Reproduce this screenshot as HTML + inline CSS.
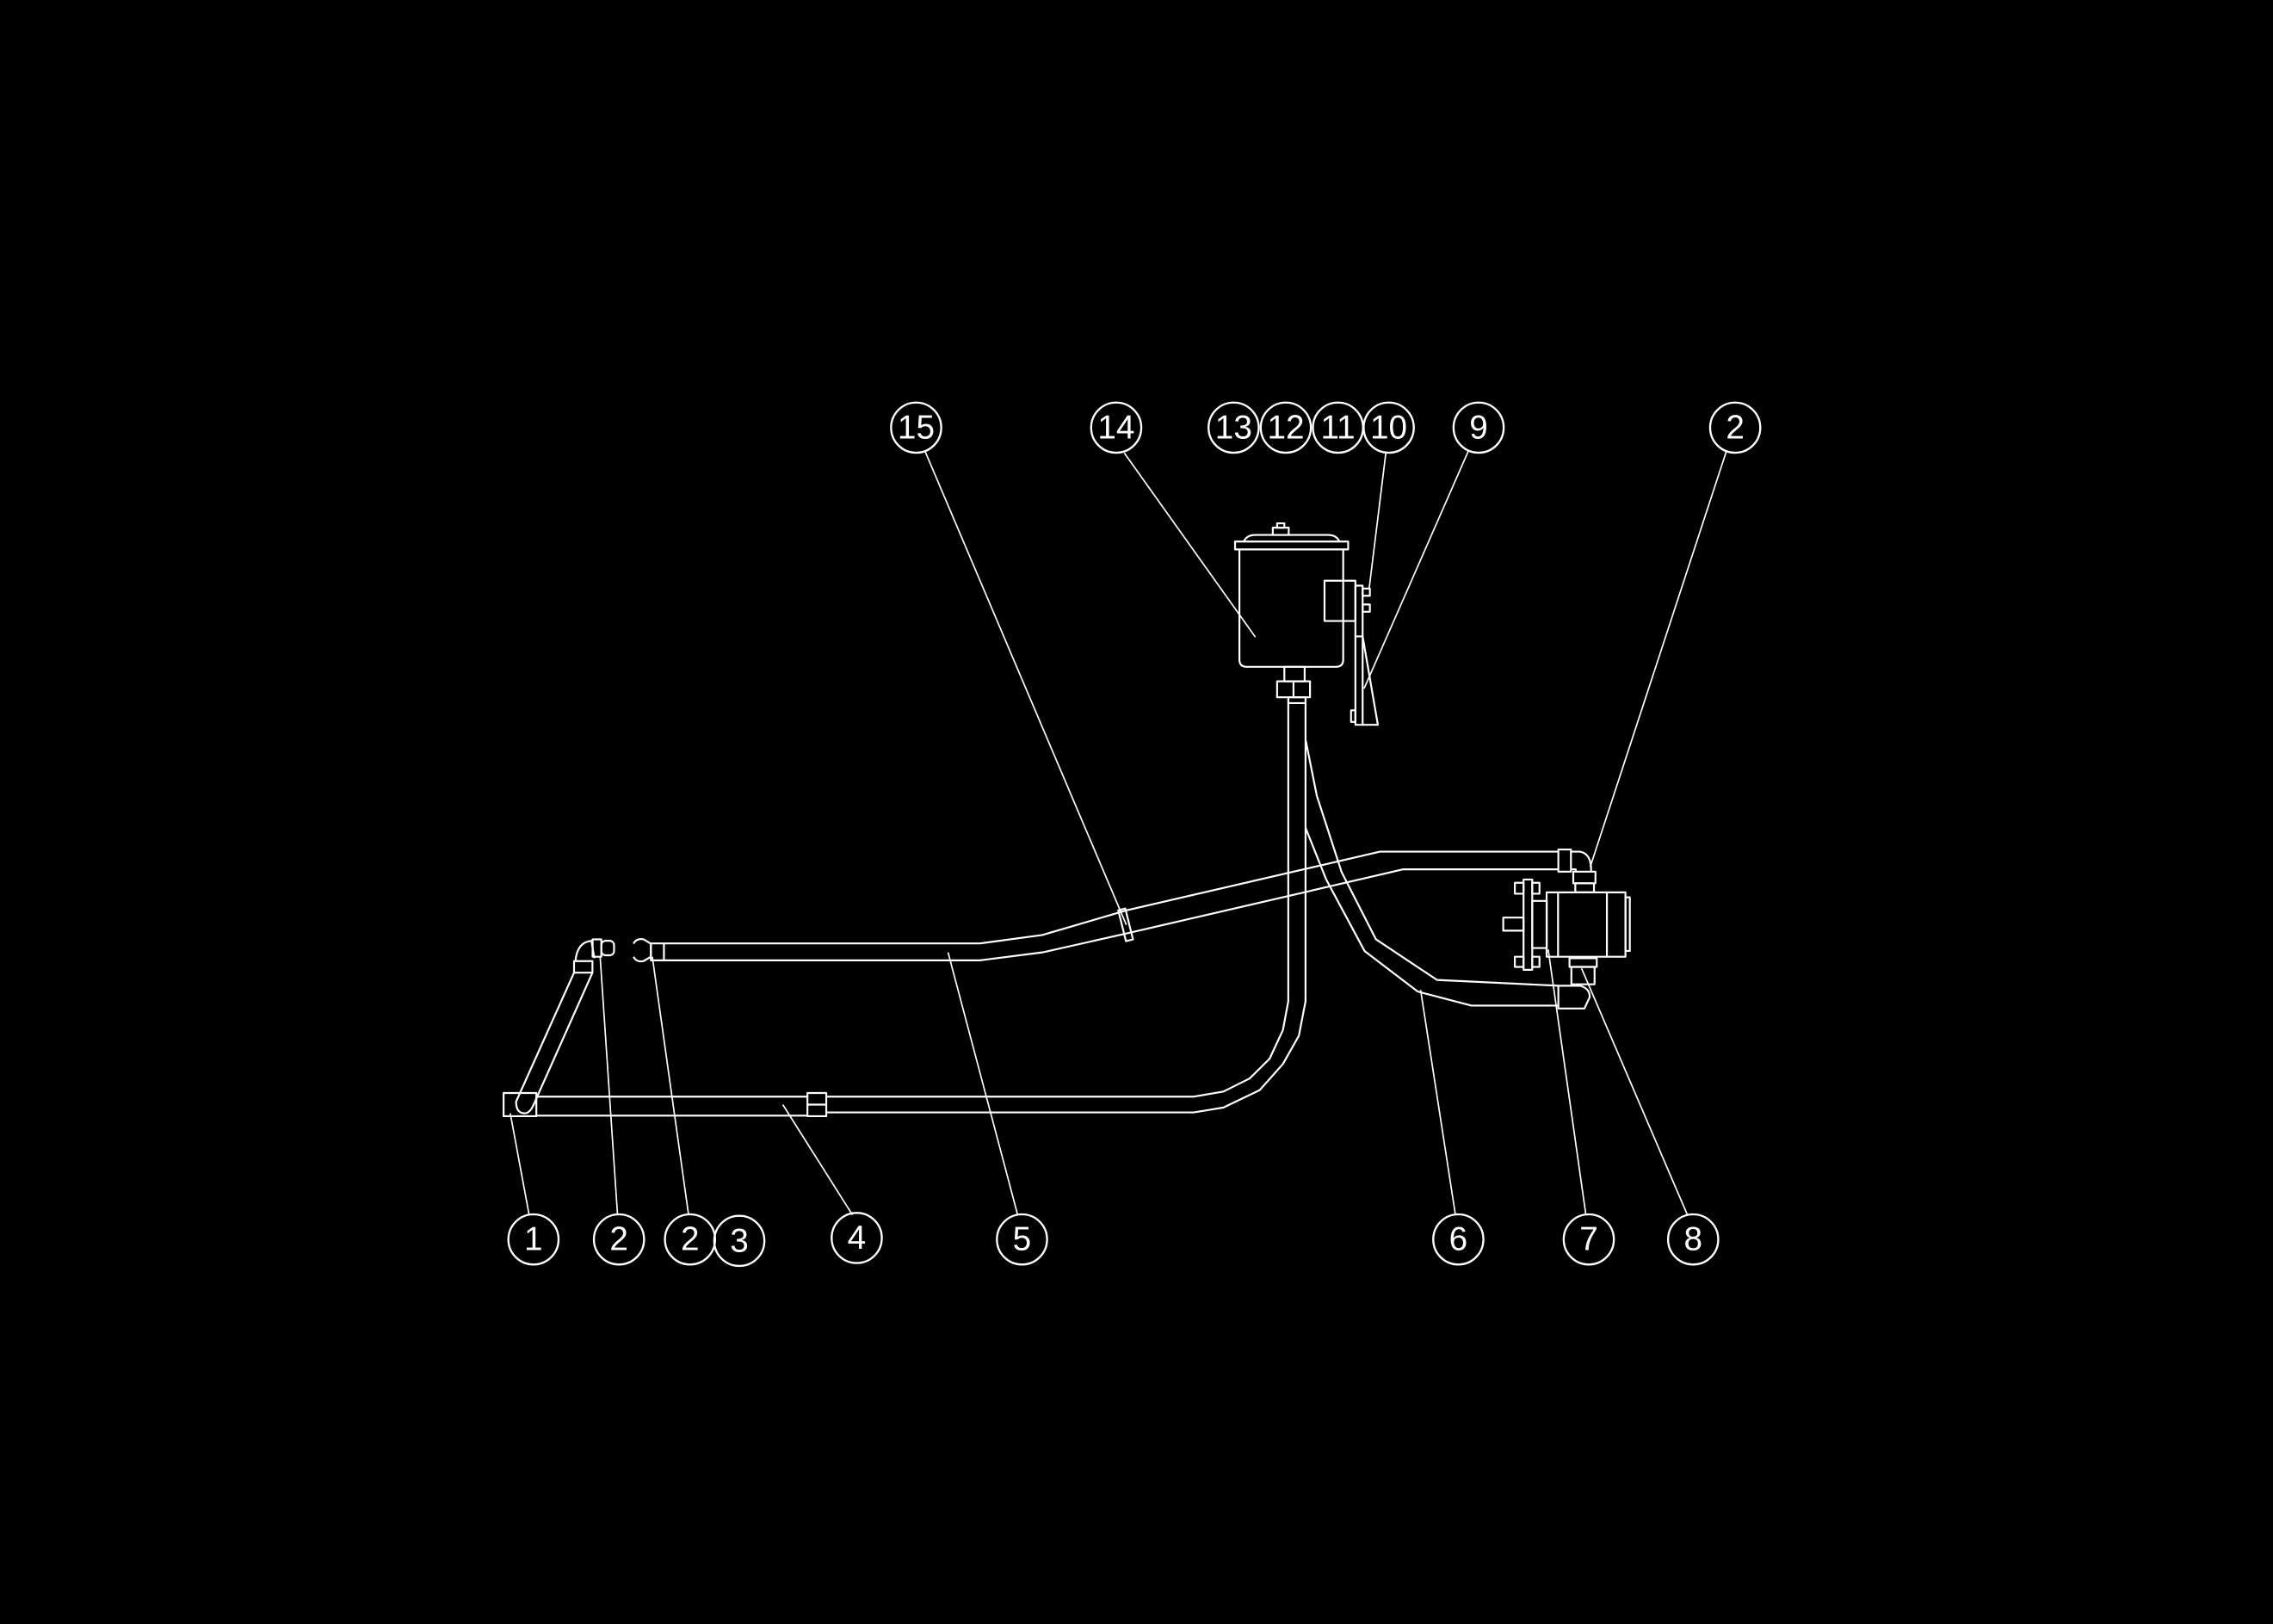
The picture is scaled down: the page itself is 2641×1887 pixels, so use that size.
<!DOCTYPE html>
<html><head><meta charset="utf-8"><style>
html,body{margin:0;padding:0;background:#000;}
svg{display:block}
text{font-family:"Liberation Sans",sans-serif;font-size:23px;fill:#fff;text-anchor:middle;dominant-baseline:central}
</style></head><body>
<svg width="2641" height="1887" viewBox="0 0 1568 1120.3" preserveAspectRatio="none" xmlns="http://www.w3.org/2000/svg">
<rect width="1568" height="1120.3" fill="#000"/>
<g fill="none" stroke="#fff" stroke-width="1.3" stroke-linejoin="round">
<!-- Tank -->
<path d="M855,379 V455 Q855,460 860,460 H921.6 Q926.6,460 926.6,455 V379"/>
<rect x="852" y="373.6" width="78" height="5.4"/>
<path d="M858,373.6 Q860,369 866,369 H916 Q922,369 924,373.6"/>
<rect x="878" y="364" width="11" height="5"/><rect x="881" y="361" width="5" height="3"/>
<rect x="913.7" y="400.6" width="21.3" height="27.8"/>
<rect x="935" y="404" width="5" height="96"/>
<rect x="940" y="406" width="5" height="5"/><rect x="940" y="417" width="5" height="5"/>
<path d="M935,439 L940,439 L950.5,500 L940,500"/>
<rect x="932" y="490" width="3" height="8"/>
<!-- fitting below tank -->
<rect x="886" y="460" width="14" height="10"/>
<rect x="881" y="470" width="22.7" height="11"/>
<line x1="892.3" y1="470" x2="892.3" y2="481"/>
<rect x="888.7" y="481" width="11.9" height="4"/>
<!-- vertical pipe + pipe 4 -->
<path d="M888.7,485 V690.8 L885,710.6 L875.8,730.4 L862,744 L844,753 L823.5,756.5 H570"/>
<path d="M900.6,485 V690.8 L896,714.5 L885,734 L869,752 L844,764 L823.5,767.4 H570"/>
<rect x="557" y="754" width="13" height="16"/><line x1="557" y1="762" x2="570" y2="762"/>
<path d="M557,756.5 H370 M557,769.6 H370"/>
<rect x="347.4" y="754" width="22.6" height="16"/>
<!-- slanted pipe 1 -->
<path d="M369,760 L408.7,671 M396,671 L356,760 Q356,768 362,768 Q366,768 369,760"/>
<rect x="396" y="663" width="12.7" height="8"/>
<path d="M397,663 Q398,650 408,649 L410,661"/>
<rect x="408.8" y="648" width="6" height="12"/><rect x="414.8" y="649" width="8.8" height="10" rx="3"/>
<!-- pipe 5 -->
<path d="M437,651 Q439,647 444,648 L449,651 V660 L444,663 Q439,664 437,660"/>
<rect x="449" y="650.8" width="9" height="11.7"/>
<path d="M458,650.8 H676 L719,645 L777,628 L952,587.5 H1075"/>
<path d="M458,662.5 H676 L719,657 L777,644 L968,599.7 H1075"/>
<rect x="774" y="627" width="5" height="22" transform="rotate(-14 776.5 638)"/>
<rect x="1075" y="586" width="8.7" height="15.3"/>
<path d="M1083.7,587.5 H1090 Q1098,589 1097.6,601.3 M1083.7,599.7 H1087 V601.3"/>
<!-- pump -->
<rect x="1085.3" y="601.3" width="15.3" height="8"/><rect x="1086.7" y="609.3" width="12.9" height="6.3"/>
<rect x="1066.9" y="615.6" width="54.4" height="44.4"/>
<line x1="1074.8" y1="615.6" x2="1074.8" y2="660"/><line x1="1108.5" y1="615.6" x2="1108.5" y2="660"/>
<rect x="1121.3" y="619" width="3" height="37"/>
<rect x="1057" y="621.5" width="10" height="32.5"/>
<rect x="1051" y="606.7" width="6" height="62.3"/>
<rect x="1045" y="609" width="6" height="7.5"/><rect x="1057" y="609" width="5" height="7.5"/>
<rect x="1045" y="660" width="6" height="7"/><rect x="1057" y="660" width="5" height="7"/>
<rect x="1037" y="633" width="14" height="9"/>
<rect x="1082.7" y="661" width="18.8" height="6"/><rect x="1084" y="667" width="16" height="12"/>
<path d="M1075,680 H1090 Q1097,682 1096.6,688 L1093,695.7 H1075 Z"/>
<!-- hose 6 -->
<path d="M900.6,510 L908.4,549 L925.5,601.6 L949.2,648 L991.3,676 L1075,680"/>
<path d="M900.6,571 L915,607 L941.3,656 L978,684 L1015,693.7 L1075,693.7"/>
</g>
<!-- leaders -->
<g stroke="#fff" stroke-width="1">
<line x1="638" y1="311" x2="777" y2="638"/>
<line x1="775.6" y1="312.5" x2="866" y2="439.5"/>
<line x1="956" y1="312.5" x2="944.5" y2="406"/>
<line x1="1013" y1="311" x2="941" y2="475"/>
<line x1="1191" y1="311" x2="1097" y2="598"/>
<line x1="365" y1="838" x2="352" y2="768"/>
<line x1="426" y1="838" x2="414" y2="660"/>
<line x1="475" y1="838" x2="450" y2="660"/>
<line x1="588" y1="838" x2="540" y2="762"/>
<line x1="702" y1="838" x2="654" y2="657"/>
<line x1="1004" y1="838" x2="980" y2="683"/>
<line x1="1094" y1="838" x2="1068" y2="655"/>
<line x1="1164" y1="838" x2="1091" y2="668"/>
</g>
<g fill="none" stroke="#fff" stroke-width="1.4">
<circle cx="632" cy="295" r="17.3"/><circle cx="770" cy="295" r="17.3"/>
<circle cx="851" cy="295" r="17.3"/><circle cx="887" cy="295" r="17.3"/>
<circle cx="923" cy="295" r="17.3"/><circle cx="958" cy="295" r="17.3"/>
<circle cx="1020" cy="295" r="17.3"/><circle cx="1197" cy="295" r="17.3"/>
<circle cx="368" cy="855" r="17.3"/><circle cx="427" cy="855" r="17.3"/>
<circle cx="476" cy="855" r="17.3"/><circle cx="510" cy="856" r="17.3"/>
<circle cx="591" cy="854" r="17.3"/><circle cx="705" cy="855" r="17.3"/>
<circle cx="1006" cy="855" r="17.3"/><circle cx="1096" cy="855" r="17.3"/>
<circle cx="1168" cy="855" r="17.3"/>
</g>
<g>
<text x="632" y="295">15</text><text x="770" y="295">14</text>
<text x="851" y="295">13</text><text x="887" y="295">12</text>
<text x="923" y="295">11</text><text x="958" y="295">10</text>
<text x="1020" y="295">9</text><text x="1197" y="295">2</text>
<text x="368" y="855">1</text><text x="427" y="855">2</text>
<text x="476" y="855">2</text><text x="510" y="856">3</text>
<text x="591" y="854">4</text><text x="705" y="855">5</text>
<text x="1006" y="855">6</text><text x="1096" y="855">7</text>
<text x="1168" y="855">8</text>
</g>
</svg>
</body></html>
